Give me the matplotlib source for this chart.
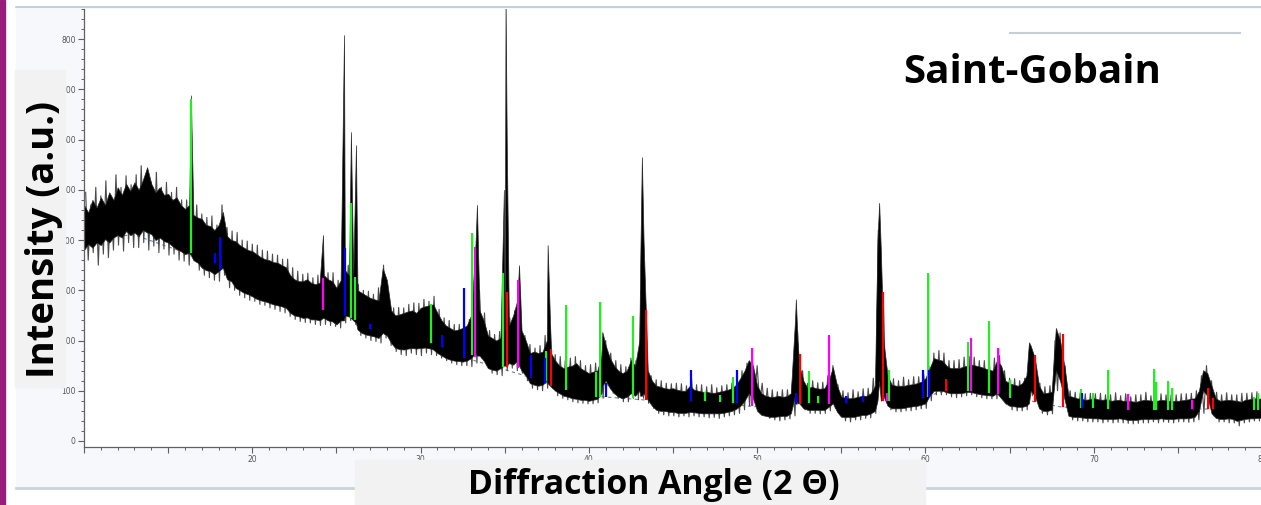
import numpy as np
import matplotlib
matplotlib.use("Agg")
import matplotlib.pyplot as plt
from matplotlib.patches import Rectangle
from matplotlib.lines import Line2D
from matplotlib.ticker import MultipleLocator, FuncFormatter

# ---------------- DATA ----------------
# scan grid 10..80 deg, step 0.25 ; upper / lower edge of the dense trace core
two_theta = np.arange(10.0, 80.001, 0.25)

upper = [
    470, 455, 480, 465,  485, 470, 495, 480,  505, 490, 512, 498,  515, 500, 520, 545,   # 10-13
    512, 495, 505, 490,  492, 480, 485, 470,  462, 470, 450, 445,  442, 430, 428, 420,   # 14-17
    430, 456, 408, 400,  398, 390, 385, 380,  378, 372, 366, 362,  360, 356, 355, 350,   # 18-21
    346, 330, 322, 318,  318, 322, 315, 312,  315, 330, 322, 318,  305, 320, 340, 330,   # 22-25
    330, 300, 295, 290,  285, 282, 280, 344,  320, 260, 250, 252,  255, 258, 260, 255,   # 26-29
    265, 268, 270, 272,  255, 240, 230, 225,  220, 222, 225, 230,  250, 380, 260, 240,   # 30-33
    210, 205, 200, 205,  220, 230, 250, 280,  220, 200, 175, 178,  175, 178, 200, 175,   # 34-37
    160, 150, 145, 148,  150, 155, 145, 140,  135, 138, 140, 170,  190, 165, 150, 140,   # 38-41
    135, 140, 161, 150,  200, 400, 140, 120,  110, 108, 105, 104,  105, 102, 100, 100,   # 42-45
    110, 102, 100, 98,   98, 96, 96, 98,      100, 102, 105, 112,  125, 140, 161, 150,   # 46-49
    110, 95, 90, 88,     88, 90, 88, 89,      95, 240, 150, 120,   105, 108, 105, 104,   # 50-53
    105, 120, 147, 110,  88, 86, 85, 86,      88, 90, 90, 95,      110, 474, 200, 130,   # 54-57
    112, 110, 110, 110,  112, 113, 115, 118,  125, 145, 165, 162,  160, 150, 145, 145,   # 58-61
    145, 148, 150, 152,  150, 148, 145, 142,  140, 160, 150, 120,  115, 112, 110, 115,   # 62-65
    130, 190, 165, 110,  95, 96, 98, 225,     200, 150, 90, 88,    85, 84, 82, 83,       # 66-69
    85, 83, 82, 83,      80, 81, 82, 80,      80, 79, 78, 80,      82, 81, 80, 80,       # 70-73
    82, 81, 80, 80,      80, 81, 82, 84,      85, 100, 141, 135,   110, 85, 80, 81,      # 74-77
    82, 81, 80, 78,      82, 83, 85, 84,      85,                                        # 78-80
]

lower = [
    380, 392, 385, 395,  390, 402, 395, 405,  410, 405, 418, 410,  415, 408, 420, 415,
    412, 400, 405, 398,  395, 388, 382, 378,  372, 375, 360, 355,  345, 340, 338, 332,
    338, 345, 322, 318,  305, 300, 295, 292,  288, 283, 280, 278,  275, 272, 270, 268,
    265, 255, 250, 248,  245, 246, 242, 242,  240, 245, 240, 238,  232, 240, 250, 248,
    240, 222, 215, 212,  210, 208, 205, 215,  210, 195, 185, 183,  182, 184, 185, 184,
    185, 186, 185, 182,  175, 170, 165, 162,  160, 159, 158, 160,  165, 175, 170, 160,
    145, 142, 140, 145,  150, 155, 152, 160,  140, 130, 115, 112,  110, 112, 120, 108,
    100, 95, 90, 88,     85, 84, 82, 82,      80, 82, 84, 95,      120, 105, 95, 88,
    85, 88, 95, 90,      100, 95, 82, 70,     62, 60, 60, 58,      58, 56, 56, 56,
    58, 57, 56, 55,      55, 55, 55, 55,      56, 58, 60, 64,      70, 80, 95, 85,
    60, 52, 50, 48,      48, 49, 50, 50,      55, 90, 75, 65,      62, 62, 62, 62,
    62, 68, 75, 58,      48, 48, 48, 48,      50, 52, 52, 55,      60, 120, 90, 70,
    65, 65, 65, 66,      68, 69, 70, 72,      75, 90, 100, 100,    100, 97, 95, 95,
    95, 96, 98, 97,      95, 93, 92, 91,      90, 95, 85, 75,      70, 69, 68, 68,
    70, 100, 90, 65,     60, 60, 62, 140,     120, 85, 50, 48,     48, 47, 46, 46,
    45, 45, 44, 44,      44, 44, 45, 44,      42, 42, 42, 43,      44, 44, 44, 44,
    45, 44, 44, 44,      45, 45, 45, 46,      48, 60, 100, 90,     55, 46, 44, 44,
    45, 44, 40, 42,      44, 45, 45, 46,      46,
]

# sharp reflections between grid points
peak_pos = [16.35, 24.2, 25.45, 25.86, 26.16, 33.35, 34.95, 35.05, 35.12, 35.85,
            37.55, 40.8, 43.05, 43.15, 52.3, 52.4, 57.15, 57.35, 66.15]
peak_top = [688, 410, 808, 615, 589, 470, 500, 880, 600, 350,
            390, 217, 350, 565, 282, 200, 400, 380, 195]
peak_base = [370, 245, 240, 245, 235, 170, 150, 150, 150, 150,
             115, 110, 90, 90, 80, 75, 80, 80, 75]

# counting noise: high / low excursions, every 0.3 deg from 10.1
spike_x = np.arange(10.1, 79.95, 0.3)
spike_hi = [
    495, 470, 505, 488, 518, 478, 530, 505, 528, 510,   # 10.1-12.8
    530, 548, 525, 515, 535, 505, 515, 495, 505, 480,   # 13.1-15.8
    480, 460, 470, 452, 445, 448, 430, 470, 425, 418,   # 16.1-18.8
    415, 400, 398, 392, 390, 380, 378, 372, 370, 362,   # 19.1-21.8
    362, 345, 338, 332, 334, 325, 330, 322, 335, 335,   # 22.1-24.8
    320, 340, 350, 340, 312, 300, 298, 292, 305, 350,   # 25.1-27.8
    290, 265, 266, 265, 272, 275, 274, 282, 278, 288,   # 28.1-30.8
    262, 245, 240, 232, 232, 235, 242, 270, 300, 255,   # 31.1-33.8
    220, 212, 218, 300, 245, 260, 300, 210, 192, 185,   # 34.1-36.8
    190, 210, 230, 172, 168, 160, 165, 168, 160, 150,   # 37.1-39.8
    152, 155, 180, 200, 175, 160, 152, 148, 165, 160,   # 40.1-42.8
    300, 180, 130, 122, 120, 115, 114, 115, 114, 110,   # 43.1-45.8
    125, 112, 112, 108, 112, 106, 110, 112, 115, 125,   # 46.1-48.8
    140, 155, 170, 150, 115, 105, 102, 98, 102, 102,    # 49.1-51.8
    120, 220, 140, 115, 120, 116, 117, 130, 150, 112,   # 52.1-54.8
    100, 96, 102, 98, 104, 105, 125, 420, 280, 140,     # 55.1-57.8
    124, 120, 127, 122, 128, 128, 132, 150, 175, 180,   # 58.1-60.8
    175, 160, 160, 162, 167, 168, 167, 160, 160, 156,   # 61.1-63.8
    165, 170, 140, 125, 124, 120, 125, 195, 170, 115,   # 64.1-66.8
    108, 110, 200, 215, 150, 100, 97, 96, 94, 95,       # 67.1-69.8
    94, 95, 92, 92, 96, 90, 94, 88, 92, 92,             # 70.1-72.8
    97, 90, 94, 94, 92, 92, 92, 94, 94, 95,             # 73.1-75.8
    100, 130, 150, 120, 97, 92, 96, 92, 92, 95,         # 76.1-78.8
    95, 96, 98,                                         # 79.1-79.7
]
spike_lo = [
    360, 375, 350, 372, 365, 380, 390, 378, 395, 385,
    385, 395, 380, 388, 375, 382, 370, 372, 360, 358,
    350, 365, 340, 330, 325, 320, 318, 330, 305, 300,
    290, 285, 280, 278, 272, 270, 265, 262, 258, 255,
    248, 242, 238, 236, 235, 232, 230, 232, 230, 228,
    225, 235, 240, 232, 210, 205, 200, 198, 195, 205,
    190, 178, 172, 170, 175, 172, 170, 175, 172, 170,
    165, 160, 155, 152, 150, 150, 148, 155, 165, 150,
    135, 132, 130, 140, 145, 140, 135, 120, 105, 102,
    100, 105, 105, 90, 85, 82, 78, 76, 75, 74,
    74, 76, 85, 110, 95, 85, 78, 78, 85, 82,
    85, 75, 65, 55, 52, 50, 50, 48, 50, 48,
    50, 48, 48, 46, 47, 45, 48, 50, 52, 55,
    62, 70, 85, 75, 55, 45, 42, 40, 42, 44,
    50, 75, 62, 55, 55, 54, 55, 60, 65, 50,
    40, 38, 42, 42, 45, 46, 55, 110, 85, 62,
    58, 58, 60, 60, 62, 64, 65, 80, 92, 92,
    92, 88, 86, 88, 90, 92, 88, 86, 84, 84,
    84, 88, 75, 62, 60, 60, 62, 90, 85, 55,
    52, 54, 100, 110, 70, 42, 40, 40, 38, 38,
    38, 36, 38, 36, 37, 36, 35, 34, 35, 36,
    36, 38, 36, 38, 37, 36, 38, 38, 37, 38,
    42, 55, 80, 50, 38, 38, 36, 36, 30, 36,
    38, 40, 40,
]

# fitted background (dashed)
bg_pos = [10, 13, 16, 18, 20, 22, 24, 26, 28, 30, 32, 34, 36, 38, 40, 44, 48, 50,
          53, 57, 60, 61.5, 64, 66.5, 68, 72, 76, 80]
bg_val = [405, 410, 375, 346, 310, 280, 261, 245, 212, 188, 172, 152, 132, 108, 90, 80,
          74, 68, 74, 80, 88, 103, 95, 78, 68, 62, 64, 62]

# reference phase sticks
green_pos = [16.35, 25.85, 26.1, 30.6, 33.05, 34.9, 37.45, 38.65, 40.45, 40.66,
             42.6, 46.9, 47.8, 48.55, 53.1, 53.6, 57.85, 60.15, 62.5, 63.75,
             65.0, 69.25, 69.95, 70.85, 73.6, 73.7, 74.4, 74.65, 79.5, 79.75]
green_bot = [375, 245, 240, 195, 171, 147, 120, 101, 88, 88,
             86, 80, 78, 76, 76, 76, 80, 88, 100, 96,
             85, 66, 66, 64, 62, 62, 62, 62, 62, 62]
green_top = [680, 474, 327, 273, 414, 334, 179, 271, 137, 277,
             248, 98, 92, 127, 139, 90, 141, 334, 197, 239,
             121, 103, 95, 141, 143, 117, 119, 105, 88, 95]

blue_pos = [17.8, 18.1, 25.5, 27.0, 31.3, 32.6, 36.55, 37.4, 41.0, 46.05,
            48.8, 52.3, 55.3, 56.3, 59.85, 60.2, 69.3]
blue_bot = [354, 340, 251, 222, 187, 165, 125, 115, 88, 80,
            76, 74, 76, 78, 86, 88, 66]
blue_top = [374, 406, 384, 232, 211, 304, 171, 165, 115, 141,
            141, 95, 90, 90, 141, 141, 95]

magenta_pos = [24.2, 33.25, 35.8, 49.7, 54.25, 57.7, 62.7, 64.3, 72.05, 75.85]
magenta_bot = [261, 168, 145, 70, 74, 80, 100, 94, 62, 64]
magenta_top = [324, 386, 320, 185, 211, 96, 205, 185, 93, 82]

red_pos = [35.13, 37.75, 43.4, 52.55, 57.5, 61.25, 66.5, 68.2, 76.8, 77.1]
red_bot = [147, 110, 82, 74, 80, 100, 78, 68, 64, 64]
red_top = [297, 183, 261, 173, 297, 123, 171, 213, 105, 85]

# ---------------- BUILD TRACE ----------------
x_all = np.concatenate([two_theta, peak_pos])
up_all = np.concatenate([upper, peak_top])
lo_all = np.concatenate([lower, peak_base])
order = np.argsort(x_all, kind="stable")
x_all, up_all, lo_all = x_all[order], up_all[order], lo_all[order]

# noise drawn as a zig-zag: each high excursion followed by its low one
zig_x = np.column_stack([spike_x, spike_x + 0.15]).ravel()
zig_y = np.column_stack([spike_hi, spike_lo]).ravel()

# ---------------- FIGURE ----------------
W, H = 1261, 505
fig = plt.figure(figsize=(W / 100, H / 100), dpi=100)
fig.patch.set_facecolor("white")

def fx(px):
    return px / W

def fy(py):
    return 1 - py / H

# screenshot frame
fig.add_artist(Rectangle((fx(16), fy(488)), fx(W - 16), (488 - 7) / H,
                         transform=fig.transFigure, color="#f6f8fb", zorder=-5))
fig.add_artist(Rectangle((0, 0), fx(5), 1, transform=fig.transFigure,
                         color="#9a1b7c", zorder=-4))
fig.add_artist(Line2D([fx(16), 1], [fy(7), fy(7)], transform=fig.transFigure,
                      color="#bcc7d6", lw=1.2, zorder=-3))
fig.add_artist(Line2D([fx(16), 1], [fy(488), fy(488)], transform=fig.transFigure,
                      color="#c8d3e0", lw=2, zorder=-3))

ax = fig.add_axes([fx(84), fy(447), fx(1262 - 84), (447 - 9) / H])
ax.set_facecolor("white")

ax.plot(bg_pos, bg_val, ls=(0, (3, 3)), color="#7080a0", lw=0.8, zorder=1)
ax.plot(zig_x, zig_y, color="#4a4a4a", lw=0.8, zorder=2)
ax.fill_between(x_all, lo_all, up_all, facecolor="black", edgecolor="#2a2a2a",
                lw=0.5, zorder=2.5)

for pos, bot, top, col in [
    (green_pos, green_bot, green_top, "#22ee22"),
    (blue_pos, blue_bot, blue_top, "#0000ff"),
    (magenta_pos, magenta_bot, magenta_top, "#ff00ff"),
    (red_pos, red_bot, red_top, "#ff0000"),
]:
    ax.vlines(pos, bot, top, colors=col, lw=1.6, zorder=3)

ax.set_xlim(10, 80)
ax.set_ylim(-12, 860)

ax.xaxis.set_major_locator(MultipleLocator(5))
ax.xaxis.set_minor_locator(MultipleLocator(1))
ax.xaxis.set_major_formatter(FuncFormatter(
    lambda v, p: f"{v:.0f}" if (v % 10 == 0 and v >= 20) else ""))
ax.yaxis.set_major_locator(MultipleLocator(100))
ax.yaxis.set_minor_locator(MultipleLocator(20))
ax.yaxis.set_major_formatter(FuncFormatter(lambda v, p: f"{v:.0f}"))

ax.tick_params(which="major", length=4, width=0.8, color="#606060",
               labelsize=5.5, labelcolor="#555555", pad=2)
ax.tick_params(which="minor", length=2.5, width=0.7, color="#606060")
for s in ["top", "right"]:
    ax.spines[s].set_visible(False)
for s in ["left", "bottom"]:
    ax.spines[s].set_color("#606060")
    ax.spines[s].set_linewidth(0.9)

# axis titles in grey boxes (drawn over the tick labels)
fig.add_artist(Rectangle((fx(15), fy(387)), fx(50), (387 - 70) / H,
                         transform=fig.transFigure, color="#f2f2f2", zorder=2))
fig.text(fx(44), fy(240), "Intensity (a.u.)", rotation=90, ha="center", va="center",
         fontsize=27.5, fontweight="bold", family="Open Sans", zorder=3)

fig.add_artist(Rectangle((fx(355), 0), fx(570), (505 - 460) / H,
                         transform=fig.transFigure, color="#f2f2f2", zorder=2))
fig.text(fx(654), fy(485), "Diffraction Angle (2 \u0398)", ha="center", va="center",
         fontsize=24.3, fontweight="bold", family="Open Sans", zorder=3)

# legend remnant + brand
fig.add_artist(Line2D([fx(1010), fx(1240)], [fy(33), fy(33)], transform=fig.transFigure,
                      color="#c5cedb", lw=1.5, zorder=3))
fig.text(fx(903), fy(83), "Saint-Gobain", ha="left", va="baseline",
         fontsize=29, fontweight="bold", family="Open Sans", zorder=3)

fig.savefig("out.png", dpi=100)
